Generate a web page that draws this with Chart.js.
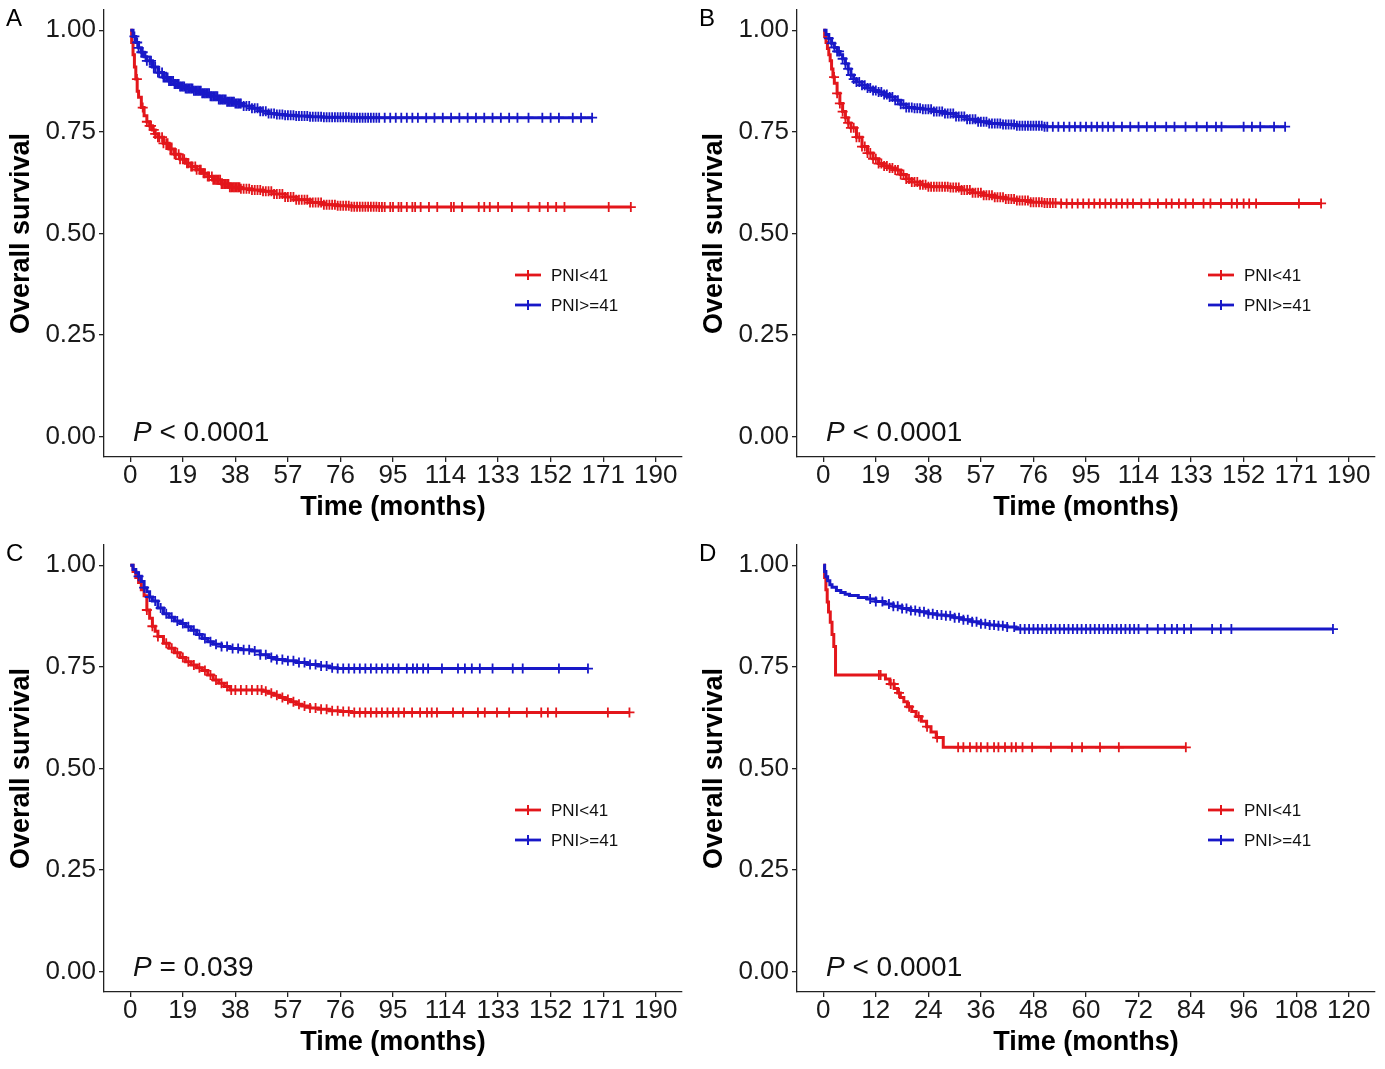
<!DOCTYPE html>
<html><head><meta charset="utf-8">
<script src="https://cdn.jsdelivr.net/npm/chart.js@4.4.0/dist/chart.umd.min.js"></script>
<style>
html,body{margin:0;padding:0;background:#fff}
body{width:1385px;height:1069px;overflow:hidden;position:relative}
.p{position:absolute;width:692px;height:535px}
canvas{display:block}
</style></head><body>
<div class="p" style="left:0;top:0"><canvas id="cA" width="692" height="535"></canvas></div>
<div class="p" style="left:693px;top:0"><canvas id="cB" width="692" height="535"></canvas></div>
<div class="p" style="left:0;top:535px"><canvas id="cC" width="692" height="535"></canvas></div>
<div class="p" style="left:693px;top:535px"><canvas id="cD" width="692" height="535"></canvas></div>
<script>
// ---------- DATA ----------
const seriesLabels = ['PNI<41', 'PNI>=41'];
const yTickValues = [0, 0.25, 0.5, 0.75, 1];
const yTickLabels = ['0.00', '0.25', '0.50', '0.75', '1.00'];
const xTicksLong = [0, 19, 38, 57, 76, 95, 114, 133, 152, 171, 190];
const xTicksD = [0, 12, 24, 36, 48, 60, 72, 84, 96, 108, 120];

// Panel A
const aRedTime = [0, 0.5, 1, 1.5, 2, 2.5, 3, 4, 5, 6, 7, 8, 9, 10, 12, 14, 16, 18, 20, 22, 24, 26, 28, 30, 33, 36, 40, 44, 48, 52, 56, 60, 65, 70, 75, 80, 90, 181];
const aRedSurv = [1, 0.97, 0.94, 0.91, 0.88, 0.85, 0.835, 0.81, 0.79, 0.775, 0.765, 0.755, 0.745, 0.737, 0.722, 0.708, 0.695, 0.683, 0.673, 0.665, 0.657, 0.648, 0.64, 0.632, 0.622, 0.614, 0.61, 0.607, 0.604, 0.597, 0.59, 0.583, 0.576, 0.571, 0.568, 0.566, 0.565, 0.565];
const aRedCens = [2.4, 4.5, 6, 7, 7.5, 8.5, 9, 10, 10.5, 11.5, 12, 13, 13.5, 14.5, 15, 16, 16.5, 17.5, 18, 19, 19.5, 20.5, 21, 22, 22.5, 23.5, 24, 25, 25.5, 26.5, 27, 28, 28.5, 29.5, 30, 30.5, 31, 31.5, 32, 32.5, 33, 33.5, 34, 34.5, 35, 35.5, 36, 36.5, 37, 37.5, 38, 38.5, 39, 39.5, 40, 41, 42, 43, 44, 45, 46, 47, 48, 49, 50, 51, 52, 53, 54, 55, 56, 57, 58, 59, 60, 61, 62, 63, 64, 65, 66, 67, 68, 69, 70, 71, 72, 73, 74, 75, 76, 77, 78, 79, 80, 81, 82, 83, 84, 85, 86, 87, 88, 89, 90, 91, 92, 94, 95, 97, 98, 100, 102, 103, 105, 108, 111, 116, 117, 120, 126, 128, 130, 133, 138, 144, 148, 151, 154, 157, 173, 181];
const aBlueTime = [0, 1, 2, 3, 4, 5, 6, 8, 10, 12, 14, 16, 18, 20, 23, 26, 29, 32, 35, 38, 41, 44, 47, 50, 53, 56, 60, 65, 70, 80, 90, 167];
const aBlueSurv = [1, 0.985, 0.97, 0.957, 0.946, 0.935, 0.925, 0.91, 0.896, 0.884, 0.875, 0.868, 0.862, 0.857, 0.851, 0.845, 0.838, 0.83, 0.824, 0.82, 0.814, 0.808, 0.801, 0.795, 0.793, 0.791, 0.789, 0.787, 0.786, 0.785, 0.785, 0.785];
const aBlueCens = [1.5, 2.5, 3, 4, 4.5, 5.5, 6, 7, 7.5, 8.5, 9, 10, 10.5, 11.5, 12, 12.5, 13, 13.5, 14, 14.5, 15, 15.5, 16, 16.5, 17, 17.5, 18, 18.5, 19, 19.5, 20, 20.5, 21, 21.5, 22, 22.5, 23, 23.5, 24, 24.5, 25, 25.5, 26, 26.5, 27, 27.5, 28, 28.5, 29, 29.5, 30, 30.5, 31, 31.5, 32, 32.5, 33, 33.5, 34, 34.5, 35, 35.5, 36, 36.5, 37, 37.5, 38, 38.5, 39, 39.5, 40, 41, 42, 43, 44, 45, 46, 47, 48, 49, 50, 51, 52, 53, 54, 55, 56, 57, 58, 59, 60, 61, 62, 63, 64, 65, 66, 67, 68, 69, 70, 71, 72, 73, 74, 75, 76, 77, 78, 79, 80, 81, 82, 83, 84, 85, 86, 87, 88, 89, 90, 92, 94, 96, 98, 100, 102, 104, 107, 110, 113, 116, 119, 122, 125, 128, 131, 134, 137, 140, 144, 149, 152, 155, 160, 163, 167];

// Panel B
const bRedTime = [0, 0.5, 1, 1.5, 2, 2.5, 3, 3.5, 4, 5, 6, 7, 8, 9, 10, 12, 14, 16, 18, 20, 22, 24, 26, 28, 30, 32, 35, 38, 42, 46, 50, 54, 58, 62, 66, 70, 75, 80, 86, 180];
const bRedSurv = [1, 0.985, 0.97, 0.955, 0.94, 0.925, 0.905, 0.885, 0.87, 0.845, 0.82, 0.8, 0.785, 0.772, 0.76, 0.737, 0.714, 0.698, 0.684, 0.672, 0.666, 0.661, 0.656, 0.645, 0.634, 0.627, 0.62, 0.615, 0.615, 0.613, 0.607, 0.6, 0.594, 0.589, 0.585, 0.581, 0.577, 0.575, 0.574, 0.574];
const bRedCens = [3.9, 5, 6, 7, 8, 9, 10, 11, 12, 13, 14, 15, 16, 17, 18, 19, 20, 21, 22, 23, 24, 25, 26, 27, 28, 29, 30, 31, 32, 33, 34, 35, 36, 37, 38, 39, 40, 41, 42, 43, 44, 45, 46, 47, 48, 49, 50, 51, 52, 53, 54, 55, 56, 57, 58, 59, 60, 61, 62, 63, 64, 65, 66, 67, 68, 69, 70, 71, 72, 73, 74, 75, 76, 77, 78, 79, 80, 81, 82, 83, 84, 86, 88, 90, 92, 94, 96, 98, 100, 102, 104, 106, 108, 110, 112, 115, 118, 121, 124, 126, 128.6, 131, 133.7, 137.5, 140, 143.8, 147.7, 149.6, 152, 154, 156.5, 172, 180];
const bBlueTime = [0, 1, 2, 3, 4, 5, 6, 7, 8, 9, 10, 11, 12, 14, 16, 18, 20, 22, 24, 26, 28, 30, 33, 36, 40, 44, 48, 52, 56, 60, 65, 70, 80, 167];
const bBlueSurv = [1, 0.99, 0.98, 0.968, 0.958, 0.948, 0.94, 0.93, 0.918, 0.905, 0.89, 0.88, 0.873, 0.865, 0.858, 0.852, 0.848, 0.842, 0.836, 0.828, 0.818, 0.81, 0.808, 0.806, 0.8, 0.795, 0.788, 0.781, 0.775, 0.771, 0.768, 0.765, 0.763, 0.763];
const bBlueCens = [2, 3, 4, 5, 5.7, 7, 8, 9, 10, 11, 12, 13, 14, 15, 16, 17, 18, 19, 20, 21, 22, 23, 24, 25, 26, 27, 28, 29, 30, 31, 32, 33, 34, 35, 36, 37, 38, 39, 40, 41, 42, 43, 44, 45, 46, 47, 48, 49, 50, 51, 52, 53, 54, 55, 56, 57, 58, 59, 60, 61, 62, 63, 64, 65, 66, 67, 68, 69, 70, 71, 72, 73, 74, 75, 76, 77, 78, 79, 80, 81, 83, 85, 87, 89, 91, 93, 95, 97, 99, 101, 103, 105, 108, 111, 114, 117, 120, 124, 127, 131, 135, 138.7, 142, 144, 152, 155, 158, 163, 167];

// Panel C
const cRedTime = [0, 1, 2, 3, 4, 5, 6, 7, 8, 9, 10, 12, 14, 16, 18, 20, 22, 24, 26, 28, 30, 32, 34, 36, 48, 50, 52, 54, 56, 58, 60, 62, 65, 68, 72, 76, 80, 180.5];
const cRedSurv = [1, 0.985, 0.97, 0.958, 0.94, 0.925, 0.89, 0.87, 0.85, 0.838, 0.825, 0.808, 0.796, 0.785, 0.773, 0.763, 0.755, 0.748, 0.741, 0.73, 0.718, 0.71, 0.702, 0.693, 0.69, 0.685, 0.68, 0.675, 0.67, 0.664, 0.658, 0.654, 0.649, 0.646, 0.642, 0.64, 0.638, 0.638];
const cRedCens = [6, 8, 10, 13, 15, 17, 19, 21, 23, 25, 27, 29, 31, 33, 35, 36.5, 38, 40, 42, 44, 46, 47.5, 49, 51, 53, 55, 57, 59, 61, 63, 65, 67, 69, 71, 73, 75, 77, 79, 81, 83, 85, 87, 89, 91, 93, 95, 97, 99, 101.9, 104.8, 107.3, 109, 110.9, 116.7, 120.3, 125.7, 128.2, 132.6, 137, 143.4, 148.6, 151, 154, 172.7, 180.5];
const cBlueTime = [0, 1, 2, 3, 4, 5, 6, 7, 8, 10, 12, 14, 16, 18, 20, 22, 24, 26, 28, 30, 33, 36, 40, 44, 47, 50, 53, 56, 60, 64, 68, 72, 75, 165.5];
const cBlueSurv = [1, 0.99, 0.982, 0.973, 0.96, 0.945, 0.935, 0.922, 0.912, 0.895, 0.881, 0.872, 0.863, 0.857, 0.849, 0.84, 0.83, 0.82, 0.812, 0.806, 0.8, 0.795, 0.792, 0.789, 0.78, 0.773, 0.768, 0.765, 0.761, 0.756, 0.752, 0.748, 0.746, 0.746];
const cBlueCens = [3, 5, 7, 9, 11, 13, 15, 17, 19, 21, 23, 25, 27, 29, 31, 33, 35, 37, 39, 41, 43, 45, 47, 49, 51, 53, 55, 57, 59, 61, 63, 65, 67, 69, 71, 73, 75, 77, 79, 81, 83, 85, 87, 89, 91, 93, 95, 97, 100, 102.2, 103.7, 105.9, 107.7, 112.7, 118.5, 121, 123.5, 126.4, 131, 138.3, 141.9, 155, 165.5];

// Panel D
const dRedTime = [0, 0.3, 0.6, 0.9, 1.2, 1.6, 2.0, 2.4, 2.8, 14.2, 15.2, 16.2, 17.0, 17.6, 18.4, 19.2, 20.2, 21.2, 22.4, 23.6, 24.6, 25.8, 27.4, 82.8];
const dRedSurv = [1, 0.97, 0.94, 0.91, 0.885, 0.86, 0.83, 0.8, 0.73, 0.72, 0.708, 0.697, 0.686, 0.675, 0.664, 0.652, 0.64, 0.628, 0.616, 0.603, 0.59, 0.576, 0.552, 0.552];
const dRedCens = [12.7, 13.1, 15.4, 16.1, 17.3, 19.6, 21.8, 23.7, 26, 30.8, 32, 33.5, 35, 36, 37.5, 39, 40, 41.5, 43, 44, 45.5, 47.7, 52, 56.8, 59.1, 63.2, 67.5, 82.8];
const dBlueTime = [0, 0.3, 0.6, 1, 1.5, 2, 3, 4, 5, 6, 8, 10, 12, 14, 16, 18, 20, 22, 24, 26, 28, 30, 32, 34, 36, 38, 40, 42, 44, 116.4];
const dBlueSurv = [1, 0.985, 0.972, 0.962, 0.952, 0.946, 0.938, 0.933, 0.929, 0.926, 0.921, 0.917, 0.911, 0.905, 0.899, 0.894, 0.889, 0.886, 0.881, 0.878, 0.876, 0.871, 0.866, 0.861, 0.856, 0.853, 0.851, 0.848, 0.843, 0.843];
const dBlueCens = [10.7, 12, 13.5, 15, 16, 17, 18, 19, 20, 21, 22, 23, 24, 25, 26, 27, 28, 29, 30, 31, 32, 33, 34, 35, 36, 37, 38, 39, 40, 41, 42, 43.6, 45, 46, 47, 48, 49, 50, 51, 52, 53, 54, 55, 56, 57, 58, 59, 60, 61, 62, 63, 64, 65, 66, 67, 68, 69, 70, 71, 72, 74, 76.4, 78, 79.6, 80.8, 82.4, 84, 88.8, 90.8, 93.2, 116.4];

const pTexts = {A: '< 0.0001', B: '< 0.0001', C: '= 0.039', D: '< 0.0001'};

// ---------- RENDERING ----------
const RED = '#E3161B', BLUE = '#1818C8';
const FONT = '"Liberation Sans", Arial, Helvetica, sans-serif';

function stepAt(times, surv, t) {
  let v = surv[0];
  for (let i = 0; i < times.length; i++) { if (times[i] <= t) v = surv[i]; else break; }
  return v;
}
function curve(times, surv) { return times.map((t, i) => ({x: t, y: surv[i]})); }
function cens(times, surv, ct) { return ct.map(t => ({x: t, y: stepAt(times, surv, t)})); }

const overlayPlugin = {
  id: 'overlay',
  afterDraw(chart, args, opts) {
    const ctx = chart.ctx;
    ctx.save();
    ctx.fillStyle = '#000';
    ctx.font = '24px ' + FONT;
    ctx.textBaseline = 'middle';
    ctx.textAlign = 'left';
    ctx.fillText(opts.letter, 6, 19);
    const items = [[0, 275], [2, 305]];
    items.forEach(([di, y]) => {
      const ds = chart.data.datasets[di];
      ctx.strokeStyle = ds.borderColor;
      ctx.lineWidth = 2.8;
      ctx.beginPath(); ctx.moveTo(515, y); ctx.lineTo(541, y); ctx.stroke();
      ctx.lineWidth = 2;
      ctx.beginPath(); ctx.moveTo(528, y - 5); ctx.lineTo(528, y + 5); ctx.moveTo(523, y); ctx.lineTo(533, y); ctx.stroke();
      ctx.fillStyle = '#111';
      ctx.font = '17px ' + FONT;
      ctx.textBaseline = 'middle';
      ctx.fillText(ds.label, 551, y + 1);
    });
    ctx.fillStyle = '#111';
    ctx.font = 'italic 28px ' + FONT;
    ctx.textBaseline = 'middle';
    ctx.fillText('P', 133, 433);
    const w = ctx.measureText('P').width;
    ctx.font = '28px ' + FONT;
    ctx.fillText(' ' + opts.p, 133 + w, 433);
    ctx.restore();
  }
};

function makePanel(id, letter, rt, rs, rc, bt, bs, bc, xTicks) {
  const xMax = xTicks[xTicks.length - 1];
  const pad = xMax * 0.05;
  new Chart(document.getElementById(id), {
    type: 'line',
    data: {
      datasets: [
        {label: seriesLabels[0], data: curve(rt, rs), borderColor: RED, backgroundColor: RED, borderWidth: 3, stepped: true, pointRadius: 0, fill: false, order: 2},
        {label: seriesLabels[0] + ' censor', type: 'scatter', data: cens(rt, rs, rc), borderColor: RED, backgroundColor: RED, pointStyle: 'cross', pointRadius: 5, pointBorderWidth: 1.8, showLine: false, order: 2},
        {label: seriesLabels[1], data: curve(bt, bs), borderColor: BLUE, backgroundColor: BLUE, borderWidth: 3, stepped: true, pointRadius: 0, fill: false, order: 1},
        {label: seriesLabels[1] + ' censor', type: 'scatter', data: cens(bt, bs, bc), borderColor: BLUE, backgroundColor: BLUE, pointStyle: 'cross', pointRadius: 5, pointBorderWidth: 1.8, showLine: false, order: 1}
      ]
    },
    options: {
      responsive: false,
      animation: false,
      events: [],
      layout: {padding: {left: 0, top: 10, right: 10, bottom: 0}},
      plugins: {legend: {display: false}, tooltip: {enabled: false}, overlay: {letter: letter, p: pTexts[letter]}},
      scales: {
        x: {
          type: 'linear', min: -pad, max: xMax + pad,
          afterBuildTicks: s => { s.ticks = xTicks.map(v => ({value: v})); },
          afterFit: s => { s.height = 78; s.paddingLeft = 0; s.paddingRight = 0; },
          ticks: {callback: v => String(v), font: {family: FONT, size: 26, lineHeight: 1}, color: '#1a1a1a', padding: 1, maxRotation: 0, autoSkip: false},
          grid: {drawOnChartArea: false, drawTicks: true, tickLength: 5, color: '#222', lineWidth: 1.3},
          border: {display: true, color: '#222', width: 1.3},
          title: {display: true, text: 'Time (months)', font: {family: FONT, size: 27, weight: 'bold'}, color: '#000', padding: {top: 0, bottom: 10.8}}
        },
        y: {
          type: 'linear', min: -0.05, max: 1.05,
          afterBuildTicks: s => { s.ticks = yTickValues.map(v => ({value: v})); },
          afterFit: s => { s.width = 104; s.paddingTop = 0; s.paddingBottom = 0; },
          ticks: {callback: (v) => yTickLabels[yTickValues.indexOf(v)], font: {family: FONT, size: 26}, color: '#1a1a1a', padding: 3},
          grid: {drawOnChartArea: false, drawTicks: true, tickLength: 5, color: '#222', lineWidth: 1.3},
          border: {display: true, color: '#222', width: 1.3},
          title: {display: true, text: 'Overall survival', font: {family: FONT, size: 27, weight: 'bold'}, color: '#000', padding: {top: 5.8, bottom: 0}}
        }
      }
    },
    plugins: [overlayPlugin]
  });
}

makePanel('cA', 'A', aRedTime, aRedSurv, aRedCens, aBlueTime, aBlueSurv, aBlueCens, xTicksLong);
makePanel('cB', 'B', bRedTime, bRedSurv, bRedCens, bBlueTime, bBlueSurv, bBlueCens, xTicksLong);
makePanel('cC', 'C', cRedTime, cRedSurv, cRedCens, cBlueTime, cBlueSurv, cBlueCens, xTicksLong);
makePanel('cD', 'D', dRedTime, dRedSurv, dRedCens, dBlueTime, dBlueSurv, dBlueCens, xTicksD);
</script>
</body></html>
